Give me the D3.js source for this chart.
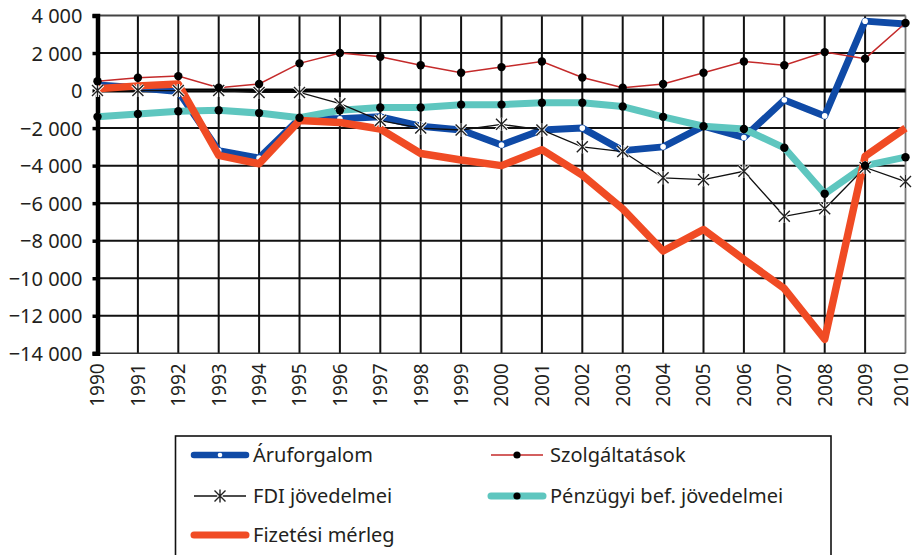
<!DOCTYPE html>
<html>
<head>
<meta charset="utf-8">
<script src="https://cdn.jsdelivr.net/npm/d3@7"></script>
<style>
  html, body { margin: 0; padding: 0; background: #fff; }
  svg { display: block; }
  text { font-family: "Noto Sans", "Open Sans", sans-serif; fill: #231f20; }
</style>
</head>
<body>
<svg id="chart" width="914" height="555"></svg>
<script>
const years = [1990,1991,1992,1993,1994,1995,1996,1997,1998,1999,2000,2001,2002,2003,2004,2005,2006,2007,2008,2009,2010];
const aruforgalom   = [300, 150, -50, -3200, -3600, -1500, -1500, -1400, -1900, -2100, -2900, -2100, -2000, -3200, -3000, -1900, -2500, -500, -1350, 3700, 3550];
const szolgaltatas  = [500, 680, 770, 150, 350, 1450, 2000, 1800, 1350, 950, 1250, 1550, 700, 150, 350, 950, 1550, 1350, 2050, 1700, 3600];
const fdi           = [0, 0, 0, 0, -100, -100, -700, -1600, -2000, -2100, -1800, -2100, -3000, -3250, -4650, -4750, -4300, -6700, -6300, -4100, -4850];
const penzugyi      = [-1400, -1250, -1100, -1050, -1200, -1450, -1050, -900, -900, -750, -750, -650, -650, -850, -1400, -1900, -2050, -3050, -5500, -4000, -3550];
const fizetesi      = [100, 250, 350, -3450, -3900, -1600, -1700, -2050, -3350, -3700, -4000, -3150, -4500, -6300, -8550, -7400, -9000, -10550, -13250, -3500, -2000];
const yTicks = [4000, 2000, 0, -2000, -4000, -6000, -8000, -10000, -12000, -14000];
const seriesNames = ["Áruforgalom", "Szolgáltatások", "FDI jövedelmei", "Pénzügyi bef. jövedelmei", "Fizetési mérleg"];

const svg = d3.select("#chart");
const x = d3.scaleLinear().domain([1990, 2010]).range([97.5, 905.5]);
const y = d3.scaleLinear().domain([-14000, 4000]).range([353.3, 15.5]);

const fmt = v => {
  const s = d3.format(",")(Math.abs(v)).replace(/,/g, " ");
  return (v < 0 ? "\u2212" : "") + s;
};

// grid
const g = svg.append("g");
g.selectAll(".hg").data(yTicks.filter(v => v !== 0 && v !== 4000 && v !== -14000)).enter().append("line")
  .attr("x1", x(1990)).attr("x2", x(2010)).attr("y1", d => y(d)).attr("y2", d => y(d))
  .attr("stroke", "#111").attr("stroke-width", 2);
g.selectAll(".vg").data(years.slice(1, -1)).enter().append("line")
  .attr("x1", d => x(d)).attr("x2", d => x(d)).attr("y1", y(4000)).attr("y2", y(-14000))
  .attr("stroke", "#111").attr("stroke-width", 2);
// top & right border
g.append("line").attr("x1", x(1990)).attr("x2", x(2010)).attr("y1", y(4000)).attr("y2", y(4000)).attr("stroke", "#444").attr("stroke-width", 1.8);
g.append("line").attr("x1", x(2010)).attr("x2", x(2010)).attr("y1", y(4000)).attr("y2", y(-14000)).attr("stroke", "#777").attr("stroke-width", 1.8);
// bottom
g.append("line").attr("x1", x(1990)).attr("x2", x(2010)).attr("y1", y(-14000)).attr("y2", y(-14000)).attr("stroke", "#333").attr("stroke-width", 1.5);
// zero line
g.append("line").attr("x1", x(1990)).attr("x2", x(2010)).attr("y1", y(0)).attr("y2", y(0)).attr("stroke", "#000").attr("stroke-width", 4);

// y axis
const yAxis = d3.axisLeft(y).tickValues(yTicks).tickSize(5).tickFormat(fmt);
const ya = svg.append("g").attr("transform", `translate(${x(1990)},0)`).call(yAxis);
ya.select(".domain").attr("stroke", "#000").attr("stroke-width", 4.5);
ya.selectAll(".tick line").attr("stroke", "#000").attr("stroke-width", 3.5);
ya.selectAll(".tick text").attr("x", -15).attr("font-size", 20).attr("dy", "0.35em")
  .style("font-family", "'Noto Sans', sans-serif").attr("fill", "#231f20");

// x axis labels
const xAxis = d3.axisBottom(x).tickValues(years).tickSize(0).tickFormat(d3.format("d"));
const xa = svg.append("g").attr("transform", `translate(0,${y(-14000)})`).call(xAxis);
xa.select(".domain").remove();
xa.selectAll(".tick text")
  .attr("transform", "rotate(-90)")
  .attr("text-anchor", "end")
  .attr("x", -10)
  .attr("y", (d, i) => i === years.length - 1 ? -4 : 0)
  .attr("dy", "0.34em")
  .attr("font-size", 19)
  .style("font-family", "'Noto Sans', sans-serif").attr("fill", "#231f20");

const pts = arr => years.map((yr, i) => [x(yr), y(arr[i])]);
const line = d3.line();

// series
const blueC = "#0f4aa6", tealC = "#5ec6bf", redC = "#f04b24", szC = "#c42a2a";

svg.append("path").attr("d", line(pts(aruforgalom))).attr("fill", "none")
  .attr("stroke", blueC).attr("stroke-width", 7).attr("stroke-linejoin", "round");
svg.append("g").selectAll("circle").data(pts(aruforgalom)).enter().append("circle")
  .attr("cx", d => d[0]).attr("cy", d => d[1]).attr("r", 2.8).attr("fill", "#fff");

svg.append("path").attr("d", line(pts(penzugyi))).attr("fill", "none")
  .attr("stroke", tealC).attr("stroke-width", 7).attr("stroke-linejoin", "round");

svg.append("path").attr("d", line(pts(szolgaltatas))).attr("fill", "none")
  .attr("stroke", szC).attr("stroke-width", 1.5);

svg.append("path").attr("d", line(pts(fdi))).attr("fill", "none")
  .attr("stroke", "#111").attr("stroke-width", 1.3);

svg.append("path").attr("d", line(pts(fizetesi))).attr("fill", "none")
  .attr("stroke", redC).attr("stroke-width", 7.5).attr("stroke-linejoin", "round");

function xMark(sel, s) {
  sel.append("path")
    .attr("d", `M${-s},${-s}L${s},${s}M${-s},${s}L${s},${-s}M0,${-s-1}L0,${s+1}`)
    .attr("stroke", "#fff").attr("stroke-width", 3.2).attr("fill", "none");
  sel.append("path")
    .attr("d", `M${-s},${-s}L${s},${s}M${-s},${s}L${s},${-s}M0,${-s-1}L0,${s+1}`)
    .attr("stroke", "#222").attr("stroke-width", 1.4).attr("fill", "none");
}
svg.append("g").selectAll("g").data(pts(fdi)).enter().append("g")
  .attr("transform", d => `translate(${d[0]},${d[1]})`).each(function() { xMark(d3.select(this), 5.5); });

svg.append("g").selectAll("circle").data(pts(penzugyi)).enter().append("circle")
  .attr("cx", d => d[0]).attr("cy", d => d[1]).attr("r", 4.2).attr("fill", "#000");
svg.append("g").selectAll("circle").data(pts(szolgaltatas)).enter().append("circle")
  .attr("cx", d => d[0]).attr("cy", d => d[1]).attr("r", 4.2).attr("fill", "#000");

// legend
const leg = svg.append("g");
leg.append("rect").attr("x", 175.5).attr("y", 436).attr("width", 655.5).attr("height", 130)
  .attr("fill", "#fff").attr("stroke", "#111").attr("stroke-width", 1.6);

const legItems = [
  {name: seriesNames[0], col: 0, row: 0, type: "blue"},
  {name: seriesNames[1], col: 1, row: 0, type: "sz"},
  {name: seriesNames[2], col: 0, row: 1, type: "fdi"},
  {name: seriesNames[3], col: 1, row: 1, type: "teal"},
  {name: seriesNames[4], col: 0, row: 2, type: "red"}
];
const colX = [194, 491], rowY = [455, 496, 535];
legItems.forEach(it => {
  const lx = colX[it.col], ly = rowY[it.row], lw = 52;
  const gg = leg.append("g");
  if (it.type === "blue") {
    gg.append("line").attr("x1", lx).attr("x2", lx + lw).attr("y1", ly).attr("y2", ly)
      .attr("stroke", blueC).attr("stroke-width", 6.5).attr("stroke-linecap", "round");
    gg.append("circle").attr("cx", lx + lw / 2).attr("cy", ly).attr("r", 2.3).attr("fill", "#fff");
  } else if (it.type === "red") {
    gg.append("line").attr("x1", lx).attr("x2", lx + lw).attr("y1", ly).attr("y2", ly)
      .attr("stroke", redC).attr("stroke-width", 7).attr("stroke-linecap", "round");
  } else if (it.type === "teal") {
    gg.append("line").attr("x1", lx).attr("x2", lx + lw).attr("y1", ly).attr("y2", ly)
      .attr("stroke", tealC).attr("stroke-width", 7).attr("stroke-linecap", "round");
    gg.append("circle").attr("cx", lx + lw / 2).attr("cy", ly).attr("r", 3.6).attr("fill", "#000");
  } else if (it.type === "sz") {
    gg.append("line").attr("x1", lx).attr("x2", lx + lw).attr("y1", ly).attr("y2", ly)
      .attr("stroke", szC).attr("stroke-width", 1.5);
    gg.append("circle").attr("cx", lx + lw / 2).attr("cy", ly).attr("r", 3.6).attr("fill", "#000");
  } else if (it.type === "fdi") {
    gg.append("line").attr("x1", lx).attr("x2", lx + lw).attr("y1", ly).attr("y2", ly)
      .attr("stroke", "#111").attr("stroke-width", 1.5);
    const m = gg.append("g").attr("transform", `translate(${lx + lw / 2},${ly})`);
    xMark(m, 5.5);
  }
  leg.append("text").attr("x", lx + lw + 7).attr("y", ly).attr("dy", "0.35em")
    .attr("font-size", 20).text(it.name);
});
</script>
</body>
</html>
